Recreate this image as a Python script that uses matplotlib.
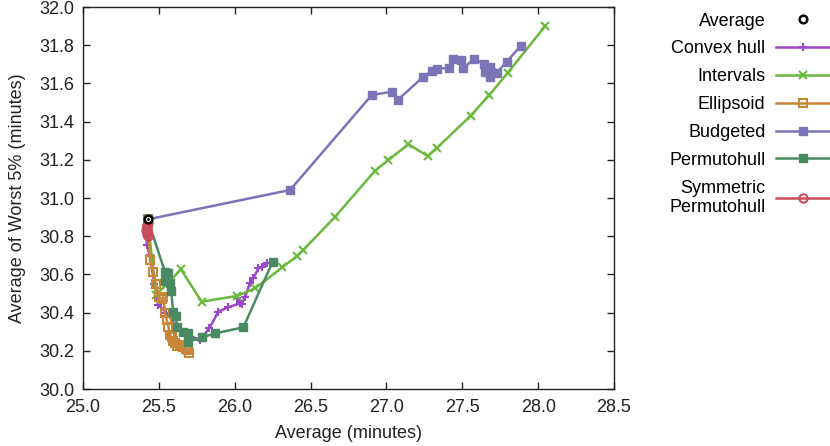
import numpy as np
import matplotlib
matplotlib.use('Agg')
import matplotlib.pyplot as plt

plt.rcParams['font.family'] = ['Liberation Sans', 'DejaVu Sans']

# average point (start of every curve)
avg_x = [25.426]
avg_y = [30.888]

hull_x = [25.426, 25.42, 25.44, 25.47, 25.496, 25.55, 25.62, 25.70, 25.771, 25.833, 25.892,
          25.958, 26.035, 26.013, 26.046, 26.068, 26.10, 26.123, 26.156, 26.18, 26.21]
hull_y = [30.888, 30.754, 30.70, 30.55, 30.44, 30.40, 30.32, 30.28, 30.256, 30.318, 30.405,
          30.428, 30.449, 30.474, 30.445, 30.483, 30.553, 30.58, 30.631, 30.64, 30.658]

intv_x = [25.426, 25.481, 25.646, 25.782, 26.013, 26.134, 26.314, 26.41, 26.452, 26.66,
          26.925, 27.013, 27.145, 27.272, 27.336, 27.555, 27.678, 27.80, 28.046]
intv_y = [30.888, 30.492, 30.626, 30.457, 30.487, 30.527, 30.637, 30.696, 30.728, 30.90,
          31.143, 31.199, 31.281, 31.22, 31.264, 31.431, 31.539, 31.656, 31.90]

ell_x = [25.426, 25.442, 25.464, 25.48, 25.503, 25.52, 25.53, 25.54, 25.553, 25.563,
         25.573, 25.585, 25.595, 25.606, 25.62, 25.639, 25.66, 25.68, 25.694, 25.70]
ell_y = [30.888, 30.675, 30.614, 30.55, 30.483, 30.47, 30.48, 30.396, 30.36, 30.326,
         30.283, 30.27, 30.25, 30.239, 30.225, 30.23, 30.22, 30.21, 30.204, 30.19]

bud_x = [25.426, 26.365, 26.903, 27.039, 27.074, 27.239, 27.303, 27.331, 27.415, 27.441,
         27.492, 27.507, 27.58, 27.64, 27.65, 27.683, 27.68, 27.69, 27.727, 27.793, 27.885]
bud_y = [30.888, 31.042, 31.539, 31.557, 31.513, 31.632, 31.667, 31.678, 31.68, 31.727,
         31.72, 31.68, 31.73, 31.70, 31.66, 31.687, 31.635, 31.66, 31.656, 31.714, 31.796]

perm_x = [25.426, 25.54, 25.563, 25.54, 25.573, 25.58, 25.595, 25.613, 25.618, 25.657,
          25.694, 25.694, 25.782, 25.87, 26.057, 26.25]
perm_y = [30.888, 30.614, 30.605, 30.563, 30.553, 30.515, 30.405, 30.384, 30.326, 30.30,
          30.291, 30.248, 30.27, 30.291, 30.323, 30.666]

sym_x = [25.426, 25.425, 25.42, 25.42, 25.415, 25.42, 25.425, 25.43]
sym_y = [30.87, 30.86, 30.85, 30.84, 30.83, 30.82, 30.81, 30.80]

fs = 13

fig = plt.figure(figsize=(8.3, 4.46), dpi=100)
ax = fig.add_axes([0.1, 0.1278, 0.6398, 0.8565])

lw = 1.8
ax.plot(avg_x, avg_y, linestyle='none', marker='o', ms=5.5, mfc='white', mec='black',
        mew=1.8, label='Average', zorder=10)
ax.plot(avg_x, avg_y, linestyle='none', marker='.', ms=2, color='black', zorder=11)
ax.plot(hull_x, hull_y, color='#9a47c8', lw=lw, marker='+', ms=6, mew=1.5, label='Convex hull')
ax.plot(intv_x, intv_y, color='#6bb83e', lw=lw, marker='x', ms=6, mew=1.5, label='Intervals')
ax.plot(ell_x, ell_y, color='#c68838', lw=lw, marker='s', ms=6, mfc='none', mew=1.5, label='Ellipsoid')
ax.plot(bud_x, bud_y, color='#7b74b6', lw=lw, marker='s', ms=6, label='Budgeted')
ax.plot(perm_x, perm_y, color='#4a8a63', lw=lw, marker='s', ms=6, label='Permutohull')
ax.plot(sym_x, sym_y, color='#c94a58', lw=lw, marker='o', ms=6, mfc='none', mew=1.5,
        label='Symmetric\nPermutohull')

ax.set_xlim(25.0, 28.5)
ax.set_ylim(30.0, 32.0)
ax.set_xticks(np.arange(25.0, 28.51, 0.5))
ax.set_yticks(np.arange(30.0, 32.01, 0.2))
ax.xaxis.set_major_formatter(matplotlib.ticker.FormatStrFormatter('%.1f'))
ax.yaxis.set_major_formatter(matplotlib.ticker.FormatStrFormatter('%.1f'))
ax.tick_params(direction='in', length=5, width=1, top=True, right=True, labelsize=fs,
               colors='#222222')
ax.tick_params(axis='y', pad=6)
ax.tick_params(axis='x', pad=7)
for s in ax.spines.values():
    s.set_color('#222222')
    s.set_linewidth(1)
ax.set_xlabel('Average (minutes)', fontsize=fs, color='#222222', labelpad=7)
ax.set_ylabel('Average of Worst 5% (minutes)', fontsize=fs, color='#222222', labelpad=10)

handles, labels = ax.get_legend_handles_labels()
leg = fig.legend(handles, labels, loc='upper right', bbox_to_anchor=(1.005, 0.98),
                 frameon=False, markerfirst=False, fontsize=fs, handlelength=3.0,
                 handletextpad=0.6, labelspacing=0.6, borderpad=0.1, borderaxespad=0.1)
leg.get_texts()[-1].set_multialignment('right')

fig.savefig('out.png', dpi=100)
